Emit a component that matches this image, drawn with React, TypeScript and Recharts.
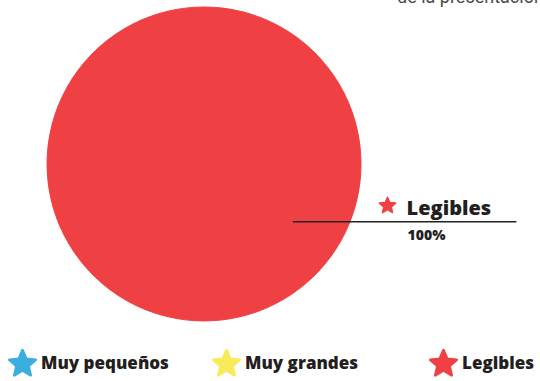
import React from "react";
import { PieChart, Pie, Cell, Legend } from "recharts";

const categories = ["Muy pequeños", "Muy grandes", "Legibles"];
const values = [0, 0, 100];
const colors = ["#3AAEE0", "#F7EB5C", "#EF4043"];

const data = categories.map((name, i) => ({ name, value: values[i] }));

const FONT = "'Open Sans', 'Noto Sans', sans-serif";

const starPath = (cx: number, cy: number, outer: number, inner: number) => {
  const pts: string[] = [];
  for (let i = 0; i < 10; i++) {
    const r = i % 2 === 0 ? outer : inner;
    const a = -Math.PI / 2 + (i * Math.PI) / 5;
    pts.push(`${(cx + r * Math.cos(a)).toFixed(2)},${(cy + r * Math.sin(a)).toFixed(2)}`);
  }
  return "M" + pts.join("L") + "Z";
};

const Star = ({ size, color }: { size: number; color: string }) => (
  <svg width={size} height={size} viewBox="0 0 30 30" style={{ display: "block" }}>
    <path
      d={starPath(15, 16.5, 13.5, 6.2)}
      fill={color}
      stroke={color}
      strokeWidth={2.5}
      strokeLinejoin="round"
    />
  </svg>
);

const RADIAN = Math.PI / 180;

const renderLabel = (props: any) => {
  const { cx, cy, midAngle, outerRadius, value, name, index } = props;
  if (!value) return null;
  const r = outerRadius * 0.675;
  const x0 = cx + r * Math.cos(-midAngle * RADIAN);
  const y0 = cy + r * Math.sin(-midAngle * RADIAN);
  const x1 = cx + outerRadius * 1.99;
  const tx = cx + outerRadius * 1.29;
  const starD = starPath(tx - 19, y0 - 16, 8.5, 3.9);
  return (
    <g>
      <line x1={x0} y1={y0} x2={x1} y2={y0} stroke="#222" strokeWidth={1.6} />
      <path d={starD} fill={colors[index]} stroke={colors[index]} strokeWidth={1.5} strokeLinejoin="round" />
      <text x={tx} y={y0 - 7} fill="#231F20" fontFamily={FONT} fontWeight={800} fontSize={20}>
        {name}
      </text>
      <text x={tx + 1} y={y0 + 18} fill="#231F20" fontFamily={FONT} fontWeight={800} fontSize={14}>
        {value}%
      </text>
    </g>
  );
};

const renderLegend = () => (
  <div style={{ position: "relative", width: 540, height: 36 }}>
    {categories.map((c, i) => (
      <div
        key={c}
        style={{
          position: "absolute",
          left: [7, 211, 428][i],
          top: 0,
          display: "flex",
          alignItems: "center",
          gap: 3,
        }}
      >
        <Star size={31} color={colors[i]} />
        <span style={{ fontFamily: FONT, fontWeight: 800, fontSize: 17, color: "#231F20" }}>{c}</span>
      </div>
    ))}
  </div>
);

export default function App() {
  return (
    <div style={{ position: "relative", width: 540, height: 381, overflow: "hidden", background: "#fff" }}>
      <style>{`body{margin:0}`}</style>
      <div
        style={{
          position: "absolute",
          left: 397,
          top: -14,
          fontFamily: "Roboto, 'Noto Sans', sans-serif",
          fontSize: 18,
          color: "#4a4a4a",
          whiteSpace: "nowrap",
        }}
      >
        de la presentación
      </div>
      <PieChart width={540} height={381} margin={{ top: 0, right: 0, bottom: 0, left: 0 }}>
        <Pie
          data={data}
          dataKey="value"
          nameKey="name"
          cx={204}
          cy={164}
          outerRadius={157}
          startAngle={147}
          endAngle={-213}
          label={renderLabel}
          labelLine={false}
          isAnimationActive={false}
        >
          {data.map((d, i) => (
            <Cell
              key={d.name}
              fill={colors[i]}
              stroke={d.value > 0 ? colors[i] : "none"}
              strokeWidth={d.value > 0 ? 1 : 0}
            />
          ))}
        </Pie>
        <Legend
          content={renderLegend}
          wrapperStyle={{ position: "absolute", top: 347, left: 0, width: 540 }}
        />
      </PieChart>
    </div>
  );
}
